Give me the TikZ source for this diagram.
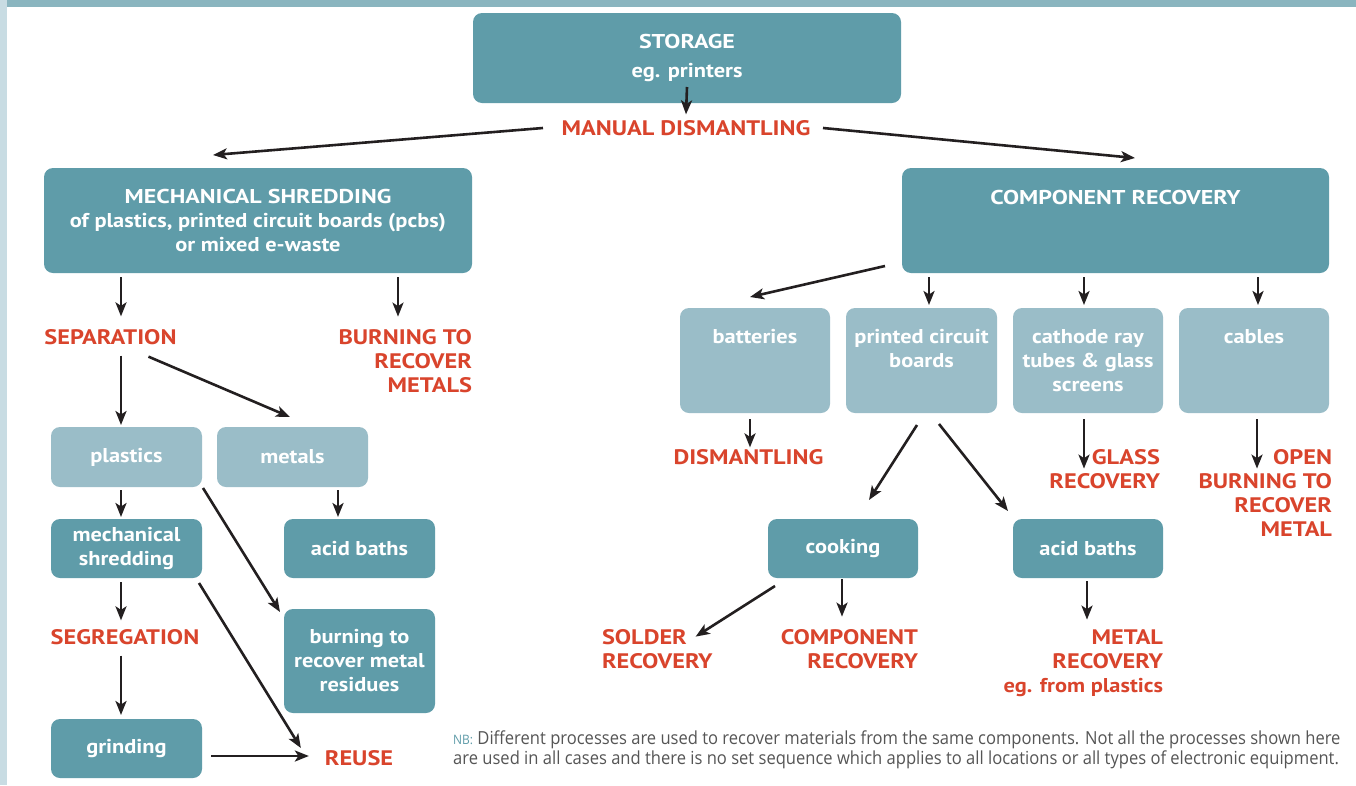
\documentclass[tikz,border=0pt]{standalone}
\usepackage{fontspec}
\setmainfont[FakeStretch=1.12]{PT Sans}
\newfontfamily\capfont[FakeStretch=1.2]{PT Sans}
\newfontfamily\lblfont[FakeStretch=1.16]{PT Sans}
\newfontfamily\nbfont[FakeStretch=0.92]{Open Sans}
\usetikzlibrary{arrows.meta,calc}
\definecolor{dark}{HTML}{5F9CA9}
\definecolor{light}{HTML}{9ABDC8}
\definecolor{redt}{HTML}{D9442C}
\definecolor{band}{HTML}{8AB5BF}
\definecolor{strip}{HTML}{C8DCE3}
\definecolor{nbgray}{HTML}{555555}
\definecolor{arrk}{HTML}{231F20}
\tikzset{
  box/.style={rounded corners=9pt, inner sep=0pt, outer sep=0pt, anchor=north west,
    text=white, font=\bfseries\fontsize{20}{24}\selectfont, align=center},
  dbox/.style={box, fill=dark},
  lbox/.style={box, fill=light},
  btext/.style={inner sep=0pt, text=white, font=\bfseries\fontsize{20}{24}\selectfont, align=center},
  lbl/.style={inner sep=0pt, outer sep=0pt, text=redt, font=\lblfont\bfseries\fontsize{21}{24}\selectfont},
  arr/.style={-{Stealth[length=14pt,width=11pt,inset=3.5pt]}, line width=2.6pt, draw=arrk}
}
\begin{document}
\begin{tikzpicture}[x=1pt,y=1pt]
\fill[white] (0,0) rectangle (1356,-785);
\useasboundingbox (0,0) rectangle (1356,-785);
\fill[strip] (0,0) rectangle (7,-785);
\fill[band] (7,0) rectangle (1356,-7);

% boxes
\node[dbox, minimum width=428pt, minimum height=90pt] (storage) at (473,-13) {{\capfont STORAGE}\\[5pt]eg. printers};
\node[dbox, minimum width=428pt, minimum height=105pt] (mech) at (44,-168) {{\capfont MECHANICAL SHREDDING}\\of plastics, printed circuit boards (pcbs)\\or mixed e-waste};
\node[dbox, minimum width=427pt, minimum height=105pt] (comp) at (902,-168) {};
\node[btext] (comptxt) at ([yshift=-29pt]comp.north) {\capfont COMPONENT RECOVERY};

\node[lbox, minimum width=151pt, minimum height=60pt] (plastics) at (51,-427) {plastics};
\node[lbox, minimum width=151pt, minimum height=60pt] (metals) at (217,-427) {metals};
\node[dbox, minimum width=151pt, minimum height=59pt] (mshred) at (51,-519) {mechanical\\shredding};
\node[dbox, minimum width=151pt, minimum height=59pt] (acidL) at (284,-519) {acid baths};
\node[dbox, minimum width=151pt, minimum height=104pt] (burn) at (284,-609) {burning to\\recover metal\\residues};
\node[dbox, minimum width=151pt, minimum height=59pt] (grind) at (51,-719) {grinding};

\node[lbox, minimum width=150pt, minimum height=105pt] (batt) at (680,-308) {};
\node[lbox, minimum width=151pt, minimum height=105pt] (pcb) at (846,-308) {};
\node[lbox, minimum width=150pt, minimum height=105pt] (crt) at (1013,-308) {};
\node[lbox, minimum width=150pt, minimum height=105pt] (cables) at (1179,-308) {};
\node[btext] (batttxt) at ([yshift=-29pt]batt.north) {batteries};
\node[btext] (pcbtxt) at ([yshift=-41pt]pcb.north) {printed circuit\\boards};
\node[btext] (crttxt) at ([yshift=-53pt]crt.north) {cathode ray\\tubes \& glass\\screens};
\node[btext] (cabtxt) at ([yshift=-29pt]cables.north) {cables};
\node[dbox, minimum width=150pt, minimum height=59pt] (cook) at (768,-519) {cooking};
\node[dbox, minimum width=150pt, minimum height=59pt] (acidR) at (1013,-519) {acid baths};

% red labels
\node[lbl] (manual) at (686,-128) {MANUAL DISMANTLING};
\node[lbl] (sep) at (110.5,-337) {SEPARATION};
\node[lbl, anchor=north east, align=right] (burnmet) at (472,-329.6) {BURNING TO\\RECOVER\\METALS};
\node[lbl] (seg) at (125,-637) {SEGREGATION};
\node[lbl] (reuse) at (359,-758) {REUSE};
\node[lbl] (dism) at (748.5,-457) {DISMANTLING};
\node[lbl, anchor=north east, align=right] (glass) at (1160,-449.6) {GLASS\\RECOVERY};
\node[lbl, anchor=north east, align=right] (open) at (1332,-449.6) {OPEN\\BURNING TO\\RECOVER\\METAL};
\node[lbl, anchor=north west, align=left] (solder) at (602,-629.6) {SOLDER\\RECOVERY};
\node[lbl, anchor=north east, align=right] (comprec) at (918,-629.6) {COMPONENT\\RECOVERY};
\node[lbl, anchor=north east, align=right] (metalrec) at (1163,-629.6) {METAL\\RECOVERY\\{\rmfamily\fontsize{20}{24}\selectfont eg. from plastics}};

% NB
\node[anchor=north west, inner sep=0pt, align=left, text=nbgray,
  font=\nbfont\fontsize{18}{20}\selectfont] (nb) at (453,-731)
  {{\color{dark}\fontsize{13}{20}\selectfont NB:} Different processes are used to recover materials from the same components. Not all the processes shown here\\
   are used in all cases and there is no set sequence which applies to all locations or all types of electronic equipment.};

% arrows top
\draw[arr] ([yshift=16pt]storage.south) -- ([yshift=6pt]manual.north);
\draw[arr] ([xshift=-143pt]manual.center) -- ([shift={(-45pt,13pt)}]mech.north);
\draw[arr] ([xshift=137pt]manual.center) -- ([shift={(19.5pt,10pt)}]comp.north);

% left arrows
\coordinate (a4) at ([shift={(77pt,-4pt)}]mech.south west);
\draw[arr, shorten >=13pt] (a4) -- (a4 |- sep.north);
\coordinate (a5) at ([shift={(354pt,-4pt)}]mech.south west);
\draw[arr, shorten >=13pt] (a5) -- (a5 |- burnmet.north);
\coordinate (a6) at ([xshift=70pt]plastics.north west);
\draw[arr, shorten <=11pt, shorten >=2pt] (a6 |- sep.south) -- (a6);
\draw[arr] ([shift={(38pt,-12pt)}]sep.south) -- ([shift={(73pt,10pt)}]metals.north west);
\draw[arr, shorten <=3pt, shorten >=2pt] ([xshift=70pt]plastics.south west) -- ([xshift=70pt]mshred.north west);
\draw[arr, shorten <=3pt, shorten >=2pt] ([xshift=121pt]metals.south west) -- ([xshift=54pt]acidL.north west);
\draw[arr] ([shift={(1pt,-1pt)}]plastics.south east) -- ([shift={(-4pt,-3pt)}]burn.north west);
\coordinate (a11) at ([shift={(70pt,-4pt)}]mshred.south west);
\draw[arr, shorten >=9pt] (a11) -- (a11 |- seg.north);
\draw[arr] ([shift={(-3pt,-5pt)}]mshred.south east) -- ([shift={(-24pt,10pt)}]reuse.west);
\coordinate (a13) at ([xshift=70pt]grind.north west);
\draw[arr, shorten <=11pt, shorten >=4pt] (a13 |- seg.south) -- (a13);
\coordinate (g1) at ([shift={(9pt,-7.5pt)}]grind.east);
\draw[arr, shorten >=16pt] (g1) -- (g1 -| reuse.west);

% right arrows
\draw[arr] ([shift={(-17pt,7pt)}]comp.south west) -- ([shift={(-5pt,11pt)}]batt.north);
\draw[arr] ([shift={(27pt,-4pt)}]comp.south west) -- ([shift={(83pt,3pt)}]pcb.north west);
\draw[arr] ([shift={(182pt,-4pt)}]comp.south west) -- ([shift={(71pt,3pt)}]crt.north west);
\draw[arr] ([shift={(356pt,-4pt)}]comp.south west) -- ([shift={(79pt,3pt)}]cables.north west);
\coordinate (a19) at ([shift={(70pt,-6pt)}]batt.south west);
\draw[arr, shorten >=2pt] (a19) -- (a19 |- dism.north);
\draw[arr] ([shift={(71pt,-12pt)}]pcb.south west) -- ([shift={(26pt,19pt)}]cook.north);
\draw[arr] ([shift={(93pt,-11pt)}]pcb.south west) -- ([shift={(-5pt,8pt)}]acidR.north west);
\coordinate (a22) at ([shift={(71pt,-6pt)}]crt.south west);
\draw[arr] (a22) -- ($(a22 |- glass.north)+(0,-19pt)$);
\coordinate (a23) at ([shift={(78pt,-6pt)}]cables.south west);
\draw[arr] (a23) -- ($(a23 |- open.north)+(0,-19pt)$);
\draw[arr] ([shift={(7pt,-8pt)}]cook.south west) -- ([shift={(-17pt,-7pt)}]solder.north east);
\coordinate (a25) at ([shift={(74pt,-1pt)}]cook.south west);
\draw[arr, shorten >=13pt] (a25) -- (a25 |- comprec.north);
\coordinate (a26) at ([shift={(74pt,-3pt)}]acidR.south west);
\draw[arr, shorten >=10pt] (a26) -- (a26 |- metalrec.north);
\end{tikzpicture}
\end{document}
